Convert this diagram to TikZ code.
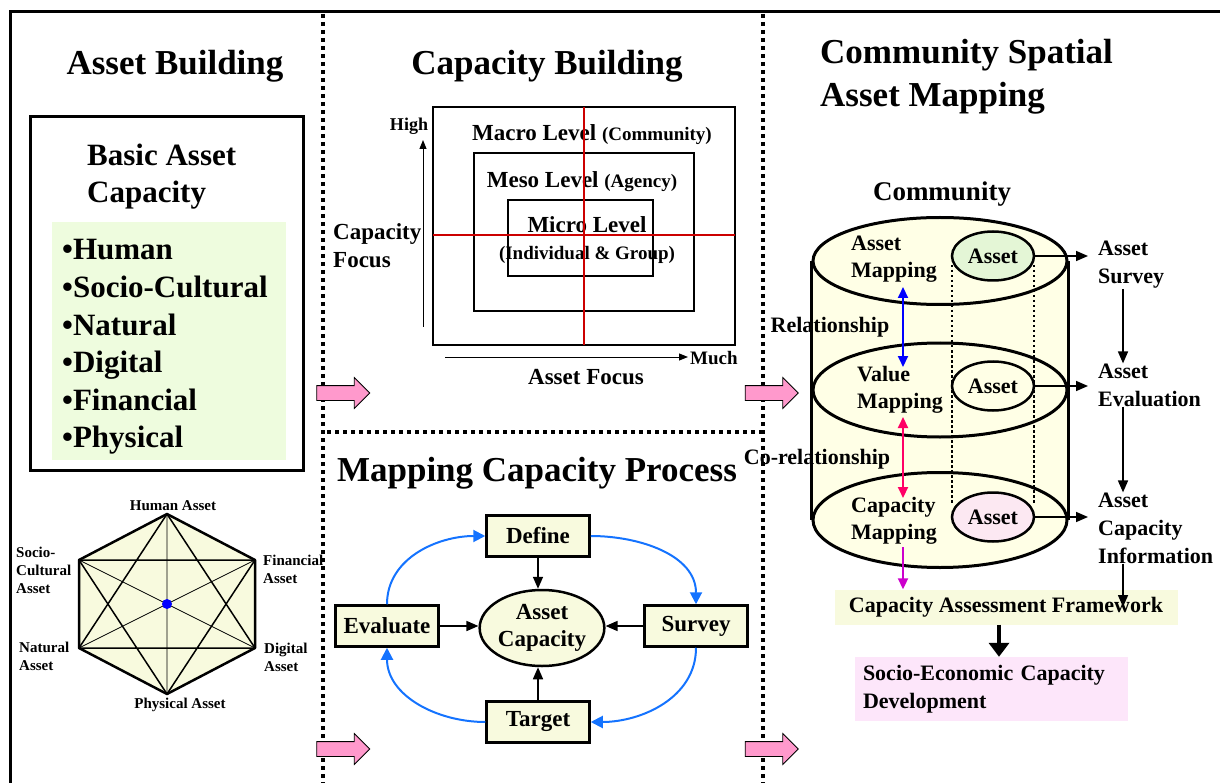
\documentclass[tikz,border=0pt]{standalone}
\usepackage{fontspec}
\setmainfont{Liberation Serif}
\usetikzlibrary{shapes,arrows.meta}
\definecolor{boxyellow}{RGB}{248,250,222}
\definecolor{cylyellow}{RGB}{255,255,230}
\definecolor{listgreen}{RGB}{238,252,222}
\definecolor{assetgreen}{RGB}{228,246,214}
\definecolor{assetpink}{RGB}{252,232,242}
\definecolor{devpink}{RGB}{253,230,250}
\definecolor{arrowpink}{RGB}{255,153,204}
\definecolor{crossred}{RGB}{204,0,0}
\definecolor{cycleblue}{RGB}{20,115,255}
\definecolor{corelred}{RGB}{255,0,102}
\definecolor{fwdmagenta}{RGB}{204,0,204}
\newcommand\fs[2]{\fontsize{#1}{#2}\selectfont\bfseries}
\tikzset{
  sepline/.style={line width=4pt, dash pattern=on 4pt off 4pt},
  lbl/.style={inner sep=0pt},
  pinkarr/.style={single arrow, draw=black, fill=arrowpink, line width=0.8pt,
    minimum height=53pt, inner xsep=0pt, inner ysep=7pt, single arrow head extend=8pt},
  procbox/.style={draw, line width=2.5pt, fill=boxyellow, minimum width=103pt,
    minimum height=41pt, inner sep=0pt, font=\fs{23}{27}},
  blackarr/.style={line width=1.6pt, -{Triangle[length=12pt,width=10pt]}},
  cycarr/.style={cycleblue, line width=2pt, -{Triangle[length=12pt,width=12pt]}},
  cylell/.style={ellipse, draw, line width=3pt, fill=cylyellow, minimum width=254pt, inner sep=0pt},
  assetell/.style={ellipse, draw, line width=2.5pt, minimum width=82pt, minimum height=49pt,
    inner sep=0pt, font=\fs{22}{26}},
  axisarr/.style={line width=1pt, -{Triangle[length=9pt,width=7pt]}},
  relarr/.style={line width=2pt, {Triangle[length=11pt,width=10pt]}-{Triangle[length=11pt,width=10pt]}},
}
\begin{document}
\begin{tikzpicture}[x=1pt,y=-1pt]
  \useasboundingbox (0,0) rectangle (1220,783);
  \draw[line width=3pt] (1230,12) -- (10,12) -- (10,790);
  \draw[sepline] (323,14) -- (323,783);
  \draw[sepline] (763,14) -- (763,783);
  \draw[sepline] (327,432) -- (763,432);

  % titles
  \node[lbl, font=\fs{35}{43}] (tasset) at (175,66) {Asset Building};
  \node[lbl, font=\fs{35}{43}] (tcap) at (547,66) {Capacity Building};
  \node[lbl, font=\fs{35}{43}, anchor=west, align=left] (tcomm) at (820,77) {Community Spatial\\Asset Mapping};
  \node[lbl, font=\fs{35}{43}] (tproc) at (537,473) {Mapping Capacity Process};

  % asset building
  \draw[line width=3pt] (30,117) rectangle (303,470);
  \node[lbl, font=\fs{31}{37}, anchor=west, align=left] (basic) at (87,177) {Basic Asset\\Capacity};
  \fill[listgreen] (52,222) rectangle (286,460);
  \node[lbl, font=\fs{31}{37.6}, anchor=west, align=left] (kinds) at (62,347)
    {•Human\\•Socio-Cultural\\•Natural\\•Digital\\•Financial\\•Physical};

  \coordinate (hc) at (167,604);
  \foreach \n/\x/\y in {1/167/514, 2/255/560, 3/255/648, 4/167/694, 5/79/648, 6/79/560}
    \coordinate (h\n) at (\x,\y);
  \draw[line width=2.5pt, fill=boxyellow, line join=round] (h1) -- (h2) -- (h3) -- (h4) -- (h5) -- (h6) -- cycle;
  \draw[line width=1.5pt, line join=round] (h1) -- (h3) -- (h5) -- cycle (h4) -- (h6) -- (h2) -- cycle;
  \draw[line width=0.8pt] (h1) -- (h4) (h6) -- (h3) (h2) -- (h5);
  \fill[blue] (hc) circle (5pt);
  \node[lbl, font=\fs{15}{18}] (lhum) at (173,506) {Human Asset};
  \node[lbl, font=\fs{15}{18}, anchor=west, align=left] (lsoc) at (16,570) {Socio-\\Cultural\\Asset};
  \node[lbl, font=\fs{15}{18}, anchor=west, align=left] (lfin) at (263,569) {Financial\\Asset};
  \node[lbl, font=\fs{15}{18}, anchor=west, align=left] (lnat) at (19,656) {Natural\\Asset};
  \node[lbl, font=\fs{15}{18}, anchor=west, align=left] (ldig) at (264,657) {Digital\\Asset};
  \node[lbl, font=\fs{15}{18}] (lphy) at (180,705) {Physical Asset};

  \foreach \x/\y [count=\i] in {339.5/393, 768/393, 339.5/749, 768/749}
    \node[pinkarr] (pink\i) at (\x,\y) {};

  % capacity building
  \draw[line width=2.5pt] (433,107) rectangle (735,345);
  \draw[line width=2.5pt] (474,153) rectangle (694,311);
  \draw[line width=2.5pt] (508,200) rectangle (653,276);
  \node[lbl, font=\fs{23}{27}] (macro) at (592,135) {Macro Level {\fs{19}{23}(Community)}};
  \node[lbl, font=\fs{23}{27}] (meso) at (582,182) {Meso Level {\fs{19}{23}(Agency)}};
  \node[lbl, font=\fs{23}{27}, align=center] (micro) at (587,240) {Micro Level\\{\fs{19}{23}(Individual \& Group)}};
  \draw[crossred, line width=2pt] (584,107) -- (584,345) (433,235) -- (735,235);
  \node[lbl, font=\fs{18}{22}] (high) at (409,126) {High};
  \node[lbl, font=\fs{19}{23}, anchor=west] (much) at (690,358) {Much};
  \node[lbl, font=\fs{23}{27}] (afocus) at (586,377) {Asset Focus};
  \node[lbl, font=\fs{23}{28}, anchor=west, align=left] (cfocus) at (333,246) {Capacity\\Focus};
  \coordinate (vbot) at (423,327);
  \coordinate (vtop) at (423,140);
  \coordinate (hleft) at (445,357);
  \draw[axisarr] (vbot) -- (vtop);
  \draw[axisarr, shorten >=2pt] (hleft) -- (hleft -| much.west);

  % mapping capacity process
  \node[procbox] (define) at (538,536) {Define};
  \node[procbox] (evaluate) at (387,626) {Evaluate};
  \node[procbox] (survey) at (696,626) {Survey};
  \node[procbox] (target) at (538,722) {Target};
  \node[ellipse, draw, line width=2.5pt, fill=boxyellow, minimum width=124pt, minimum height=76pt,
    inner sep=0pt, align=center, font=\fs{23}{27}] (assetcap) at (542,628) {Asset\\Capacity};
  \draw[blackarr] (define.south) -- (define.south |- assetcap.north);
  \draw[blackarr] (evaluate.east) -- (evaluate.east -| assetcap.west);
  \draw[blackarr] (survey.west) -- (survey.west -| assetcap.east);
  \draw[blackarr] (target.north) -- (target.north |- assetcap.south);
  \draw[cycarr] (evaluate.north) to[out=90, in=180] (define.west);
  \draw[cycarr] (define.east) to[out=0, in=90] (survey.north);
  \draw[cycarr] (survey.south) to[out=-90, in=0] (target.east);
  \draw[cycarr] (target.west) to[out=180, in=-90] (evaluate.south);

  % community spatial asset mapping
  \node[lbl, font=\fs{27}{32}] (comm) at (942,194) {Community};
  \fill[cylyellow] (813,261) rectangle (1067,520);
  \node[cylell, minimum height=95pt] (cylbot) at (940,520) {};
  \node[cylell, minimum height=94pt] (cylmid) at (940,390) {};
  \node[cylell, minimum height=87pt] (cyltop) at (940,261) {};
  \draw[line width=3pt] (cyltop.west) -- (cylbot.west) (cyltop.east) -- (cylbot.east);
  \draw[line width=2.5pt, dash pattern=on 2.5pt off 2.5pt] (952,265) -- (952,503) (1034,265) -- (1034,503);
  \node[assetell, fill=assetgreen] (assetA) at (993,256) {Asset};
  \node[assetell, fill=cylyellow] (assetB) at (993,386) {Asset};
  \node[assetell, fill=assetpink] (assetC) at (993,517) {Asset};
  \node[lbl, font=\fs{22}{27}, anchor=west, align=left] (amap) at (851,259) {Asset\\Mapping};
  \node[lbl, font=\fs{22}{27}, anchor=west, align=left] (vmap) at (857,390) {Value\\Mapping};
  \node[lbl, font=\fs{22}{27}, anchor=west, align=left] (cmap) at (851,521) {Capacity\\Mapping};
  \node[lbl, font=\fs{22}{26}] (rel) at (830,327) {Relationship};
  \node[lbl, font=\fs{22}{26}] (corel) at (817,459) {Co-relationship};
  \coordinate (rA) at (903,287);
  \coordinate (rB) at (903,367);
  \coordinate (cA) at (903,417);
  \coordinate (cB) at (903,498);
  \coordinate (mA) at (903,547);
  \draw[relarr, blue] (rA) -- (rB);
  \draw[relarr, corelred] (cA) -- (cB);

  \node[lbl, font=\fs{22}{28}, anchor=west, align=left] (svytxt) at (1098,265) {Asset\\Survey};
  \node[lbl, font=\fs{22}{28}, anchor=west, align=left] (evaltxt) at (1098,385) {Asset\\Evaluation};
  \node[lbl, font=\fs{22}{28}, anchor=west, align=left] (infotxt) at (1098,528) {Asset\\Capacity\\Information};
  \draw[blackarr, shorten >=10pt] (assetA.east) -- (assetA.east -| svytxt.west);
  \draw[blackarr, shorten >=10pt] (assetB.east) -- (assetB.east -| evaltxt.west);
  \draw[blackarr, shorten >=10pt] (assetC.east) -- (assetC.east -| infotxt.west);
  \draw[blackarr] ([xshift=25pt]svytxt.south west) -- ([xshift=25pt]evaltxt.north west);
  \draw[blackarr] ([xshift=25pt]evaltxt.south west) -- ([xshift=25pt]infotxt.north west);

  \node[fill=boxyellow, minimum width=343pt, minimum height=35pt, inner sep=0pt, font=\fs{22}{26}] (caf) at (1006,607)
    {Capacity Assessment Framework};
  \node[fill=devpink, text width=257pt, inner xsep=8pt, minimum height=64pt, align=left, font=\fs{22}{28}] (dev) at (991.5,689)
    {Socio-Economic Capacity\\Development};
  \coordinate (infoarr) at ([xshift=25pt]infotxt.south west);
  \draw[blackarr] (infoarr) -- (infoarr |- caf.center);
  \draw[line width=2pt, fwdmagenta, -{Triangle[length=11pt,width=10pt]}] (mA) -- (mA |- caf.north);
  \draw[line width=4pt, -{Triangle[length=14pt,width=20pt]}] ([xshift=-7pt]caf.south) -- ([xshift=-7pt]caf.south |- dev.north);
\end{tikzpicture}
\end{document}
